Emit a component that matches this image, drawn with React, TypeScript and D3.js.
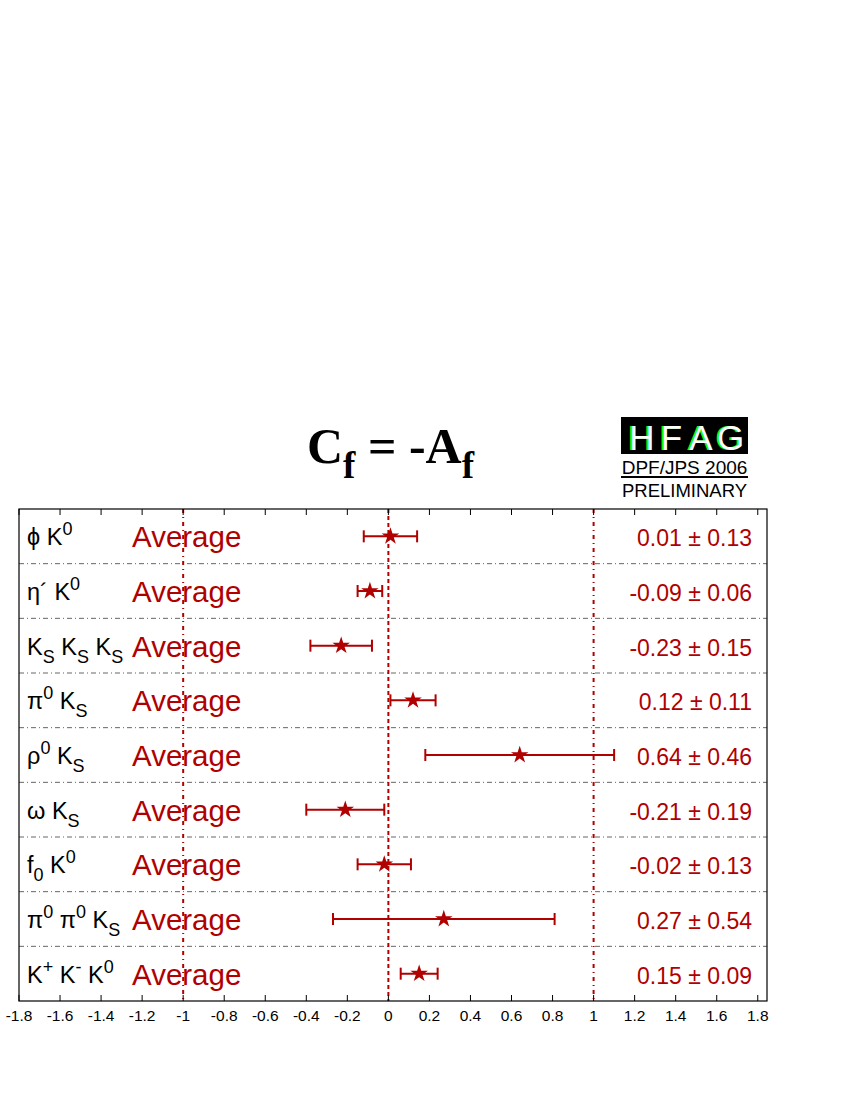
import React from 'react';
import * as d3 from 'd3';

// label pieces: [text, mode] where mode '' normal, 'sub', 'sup'
const labels: [string, string][][] = [
  [['ϕ K', ''], ['0', 'sup']],
  [['η´ K', ''], ['0', 'sup']],
  [['K', ''], ['S', 'sub'], [' K', ''], ['S', 'sub'], [' K', ''], ['S', 'sub']],
  [['π', ''], ['0', 'sup'], [' K', ''], ['S', 'sub']],
  [['ρ', ''], ['0', 'sup'], [' K', ''], ['S', 'sub']],
  [['ω K', ''], ['S', 'sub']],
  [['f', ''], ['0', 'sub'], [' K', ''], ['0', 'sup']],
  [['π', ''], ['0', 'sup'], [' π', ''], ['0', 'sup'], [' K', ''], ['S', 'sub']],
  [['K', ''], ['+', 'sup'], [' K', ''], ['-', 'sup'], [' K', ''], ['0', 'sup']],
];
const values = [0.01, -0.09, -0.23, 0.12, 0.64, -0.21, -0.02, 0.27, 0.15];
const errors = [0.13, 0.06, 0.15, 0.11, 0.46, 0.19, 0.13, 0.54, 0.09];
const refLines = [-1, 0, 1];

const RED = '#b00000';
const SANS = '"Liberation Sans", Arial, Helvetica, sans-serif';
const SERIF = '"Liberation Serif", "Times New Roman", serif';

const Label = ({ parts, x, y }: { parts: [string, string][]; x: number; y: number }) => {
  const out: React.ReactNode[] = [];
  let shift = 0;
  parts.forEach(([t, mode], i) => {
    const target = mode === 'sup' ? -10 : mode === 'sub' ? 8 : 0;
    const dy = target - shift;
    shift = target;
    out.push(
      <tspan key={i} dy={dy} fontSize={mode ? 18 : 23.5}>{t}</tspan>
    );
  });
  return (
    <text x={x} y={y} fontFamily={SANS} fill="#000" style={{ whiteSpace: 'pre' }}>{out}</text>
  );
};

const App = () => {
  const W = 850, H = 1100;
  const left = 19, right = 767, top = 509, bottom = 1001;

  const x = d3.scaleLinear().domain([-1.8, 1.845]).range([left, right]);
  const y = d3.scaleBand<number>().domain(d3.range(values.length)).range([top, bottom]);
  const ticks = x.ticks(18).filter(t => t <= 1.8001);
  const fmt = (d: number) => String(+d.toFixed(1));
  const star = d3.symbol().type(d3.symbolStar).size(95)() as string;

  return (
    <svg width={W} height={H} style={{ position: 'absolute', left: 0, top: 0, background: '#fff' }}>
      {/* title */}
      <text x={307} y={463} fontFamily={SERIF} fontWeight="bold" fontSize={50} fill="#000" style={{ whiteSpace: 'pre' }}>
        C<tspan dy={15} fontSize={37}>f</tspan><tspan dy={-15}> = -A</tspan><tspan dy={15} fontSize={37}>f</tspan>
      </text>

      {/* HFAG logo */}
      <g>
        <rect x={621} y={417} width={127} height={37} fill="#000" />
        <line x1={621} x2={748} y1={477} y2={477} stroke="#000" strokeWidth={2} />
        {['H', 'F', 'A', 'G'].map((c, i) => (
          <g key={c}>
            <text x={640 + i * 29.5} y={450} textAnchor="middle" fontFamily={SANS} fontSize={35} fill="#00ff00">{c}</text>
            <text x={642 + i * 29.5} y={450} textAnchor="middle" fontFamily={SANS} fontSize={35} fill="#fff">{c}</text>
          </g>
        ))}
        <text x={684.5} y={474} textAnchor="middle" fontFamily={SANS} fontSize={19} fill="#000">DPF/JPS 2006</text>
        <text x={684.5} y={497} textAnchor="middle" fontFamily={SANS} fontSize={18.5} fill="#000">PRELIMINARY</text>
      </g>

      {/* row separators */}
      {values.slice(1).map((_, i) => (
        <line key={i} x1={left} x2={right} y1={y(i + 1)!} y2={y(i + 1)!}
          stroke="#666" strokeWidth={1} strokeDasharray="5,3,1,3" />
      ))}

      {/* reference lines */}
      {refLines.map(r => (
        <line key={r} x1={x(r)} x2={x(r)} y1={top} y2={bottom} stroke={RED} strokeWidth={2}
          strokeDasharray={r === 0 ? '4,3' : '4,4,1,4'} />
      ))}

      {/* frame */}
      <rect x={left} y={top} width={right - left} height={bottom - top} fill="none" stroke="#000" strokeWidth={1.2} />

      {/* ticks */}
      {ticks.map(t => (
        <g key={t}>
          <line x1={x(t)} x2={x(t)} y1={top} y2={top + 6} stroke="#000" />
          <line x1={x(t)} x2={x(t)} y1={bottom} y2={bottom - 6} stroke="#000" />
          <text x={x(t)} y={1021} textAnchor="middle" fontFamily={SANS} fontSize={15.5} fill="#000">{fmt(t)}</text>
        </g>
      ))}

      {/* rows */}
      {values.map((v, i) => {
        const cy = y(i)! + y.bandwidth() / 2;
        const e = errors[i];
        return (
          <g key={i}>
            <Label parts={labels[i]} x={27} y={cy + 9} />
            <text x={132} y={cy + 11} fontFamily={SANS} fontSize={29.5} fill={RED}>Average</text>
            <line x1={x(v - e)} x2={x(v + e)} y1={cy} y2={cy} stroke={RED} strokeWidth={2} />
            <line x1={x(v - e)} x2={x(v - e)} y1={cy - 6} y2={cy + 6} stroke={RED} strokeWidth={2} />
            <line x1={x(v + e)} x2={x(v + e)} y1={cy - 6} y2={cy + 6} stroke={RED} strokeWidth={2} />
            <path d={star} transform={`translate(${x(v)},${cy})`} fill={RED} />
            <text x={752} y={cy + 10} textAnchor="end" fontFamily={SANS} fontSize={23} fill={RED}>
              {`${v.toFixed(2)} ± ${e.toFixed(2)}`}
            </text>
          </g>
        );
      })}
    </svg>
  );
};

export default App;
